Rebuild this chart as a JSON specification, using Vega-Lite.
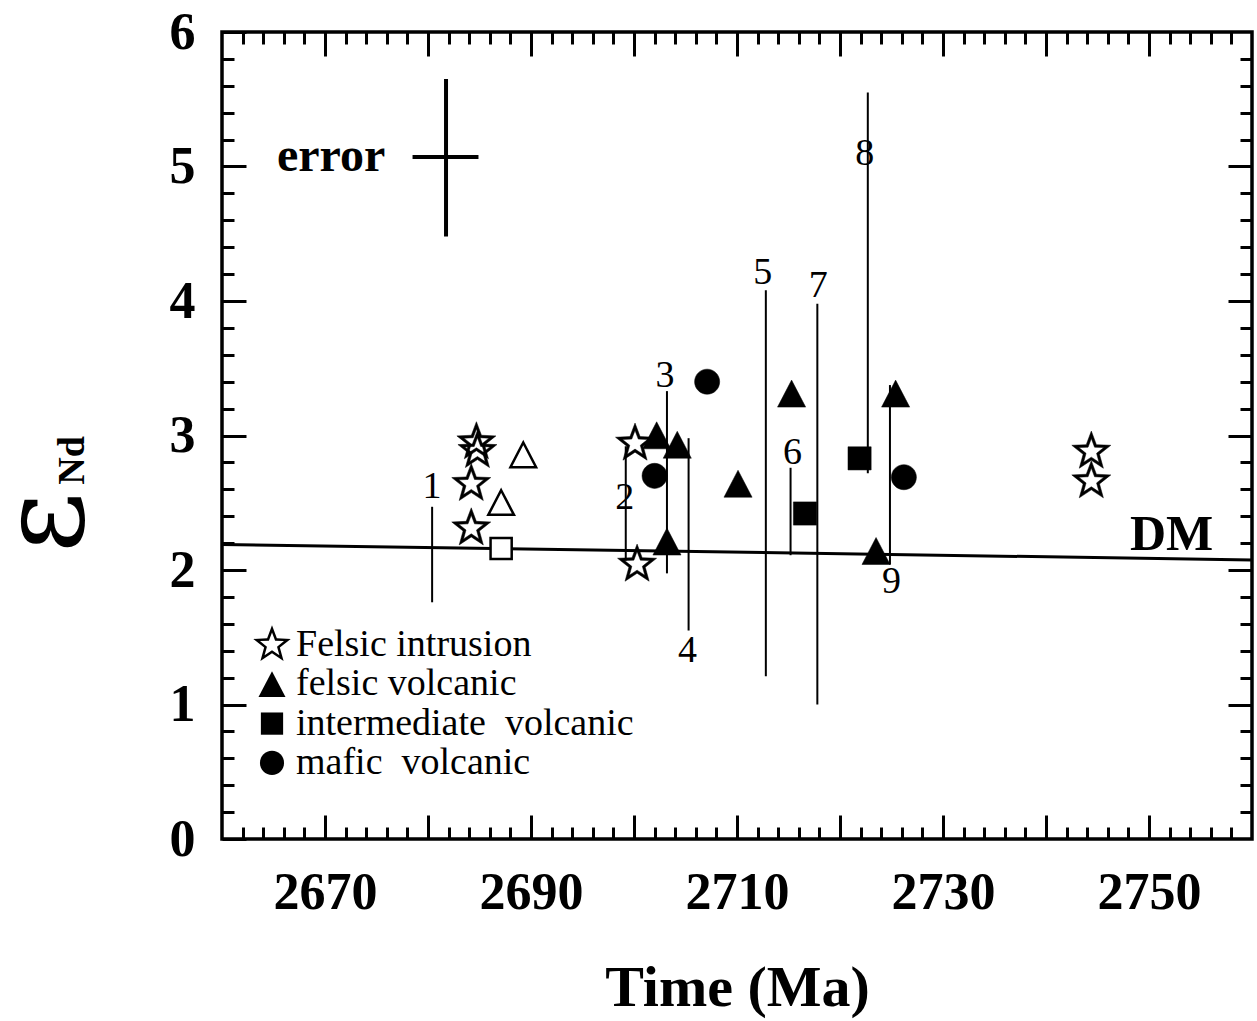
{
  "$schema": "https://vega.github.io/schema/vega-lite/v6.json",
  "width": 1030,
  "height": 807,
  "autosize": {"type": "none"},
  "padding": {"left": 222, "top": 32, "right": 5, "bottom": 182},
  "background": "white",
  "config": {
    "font": "Liberation Serif",
    "view": {"stroke": "black", "strokeWidth": 3.5},
    "axis": {"domain": false, "grid": false, "tickColor": "black", "tickWidth": 3, "labelColor": "black", "titleColor": "black", "labelFont": "Liberation Serif", "titleFont": "Liberation Serif", "zindex": 1}
  },
  "datasets": {
    "pts": [
      {"x": 2684.7, "y": 2.95, "rock": "Felsic intrusion", "open": false},
      {"x": 2684.8, "y": 2.885, "rock": "Felsic intrusion", "open": false},
      {"x": 2684.2, "y": 2.64, "rock": "Felsic intrusion", "open": false},
      {"x": 2684.2, "y": 2.31, "rock": "Felsic intrusion", "open": false},
      {"x": 2700.1, "y": 2.94, "rock": "Felsic intrusion", "open": false},
      {"x": 2700.3, "y": 2.04, "rock": "Felsic intrusion", "open": false},
      {"x": 2744.4, "y": 2.88, "rock": "Felsic intrusion", "open": false},
      {"x": 2744.4, "y": 2.66, "rock": "Felsic intrusion", "open": false},
      {"x": 2702.2, "y": 3.0, "rock": "felsic volcanic", "open": false},
      {"x": 2704.2, "y": 2.93, "rock": "felsic volcanic", "open": false},
      {"x": 2703.2, "y": 2.21, "rock": "felsic volcanic", "open": false},
      {"x": 2710.1, "y": 2.64, "rock": "felsic volcanic", "open": false},
      {"x": 2715.3, "y": 3.31, "rock": "felsic volcanic", "open": false},
      {"x": 2725.4, "y": 3.31, "rock": "felsic volcanic", "open": false},
      {"x": 2723.5, "y": 2.14, "rock": "felsic volcanic", "open": false},
      {"x": 2689.25, "y": 2.855, "rock": "felsic volcanic", "open": true},
      {"x": 2687.1, "y": 2.5, "rock": "felsic volcanic", "open": true},
      {"x": 2716.6, "y": 2.42, "rock": "intermediate volcanic", "open": false},
      {"x": 2721.9, "y": 2.83, "rock": "intermediate volcanic", "open": false},
      {"x": 2687.1, "y": 2.16, "rock": "intermediate volcanic", "open": true},
      {"x": 2702.0, "y": 2.7, "rock": "mafic volcanic", "open": false},
      {"x": 2707.1, "y": 3.4, "rock": "mafic volcanic", "open": false},
      {"x": 2726.2, "y": 2.69, "rock": "mafic volcanic", "open": false}
    ],
    "bars": [
      {"id": "1", "x": 2680.4, "lo": 1.76, "hi": 2.47, "lx": 2680.4, "ly": 2.62},
      {"id": "2", "x": 2699.2, "lo": 2.07, "hi": 2.92, "lx": 2699.1, "ly": 2.535},
      {"id": "3", "x": 2703.2, "lo": 1.975, "hi": 3.33, "lx": 2703.0, "ly": 3.44},
      {"id": "4", "x": 2705.3, "lo": 1.55, "hi": 2.98, "lx": 2705.2, "ly": 1.4},
      {"id": "5", "x": 2712.8, "lo": 1.21, "hi": 4.08, "lx": 2712.5, "ly": 4.21},
      {"id": "6", "x": 2715.2, "lo": 2.11, "hi": 2.76, "lx": 2715.4, "ly": 2.87},
      {"id": "7", "x": 2717.8, "lo": 1.0, "hi": 3.98, "lx": 2717.9, "ly": 4.11},
      {"id": "8", "x": 2722.7, "lo": 2.72, "hi": 5.55, "lx": 2722.4, "ly": 5.09},
      {"id": "9", "x": 2724.85, "lo": 2.04, "hi": 3.375, "lx": 2725.0, "ly": 1.91}
    ],
    "dm": [
      {"x": 2660, "y": 2.19},
      {"x": 2760, "y": 2.075}
    ],
    "errv": [{"x": 2681.75, "y": 4.48, "y2": 5.65}],
    "errh": [{"x": 2678.5, "x2": 2684.9, "y": 5.07}],
    "notes": [
      {"x": 2670.6, "y": 4.97, "text": "error"},
      {"x": 2752.2, "y": 2.15, "text": "DM"}
    ]
  },
  "layer": [
    {
      "data": {"name": "bars"},
      "mark": {"type": "rule", "strokeWidth": 2, "color": "black"},
      "encoding": {
        "x": {"field": "x", "type": "quantitative", "scale": {"domain": [2660, 2760], "nice": false, "zero": false},
          "axis": {"orient": "bottom", "values": [2670, 2680, 2690, 2700, 2710, 2720, 2730, 2740, 2750], "format": "d",
            "labelExpr": "(datum.value - 2670) % 20 == 0 ? datum.label : ''",
            "tickSize": -24, "labelFontSize": 52, "labelFontWeight": "bold", "labelPadding": 52, "labelBaseline": "top",
            "labelFlush": false, "labelOverlap": false,
            "title": "Time (Ma)", "titleFontSize": 58, "titleFontWeight": "bold", "titleY": 166, "titleBaseline": "alphabetic"}},
        "y": {"field": "lo", "type": "quantitative", "scale": {"domain": [0, 6], "nice": false, "zero": false},
          "axis": {"orient": "left", "values": [0, 1, 2, 3, 4, 5, 6], "format": "d",
            "tickSize": -24, "labelFontSize": 52, "labelFontWeight": "bold", "labelPadding": 51,
            "labelFlush": false, "labelOverlap": false,
            "title": "ε", "titleFont": "DejaVu Serif", "titleFontSize": 118, "titleFontWeight": "normal", "titleAngle": -90,
            "titleX": -140, "titleY": 490, "titleAlign": "center", "titleBaseline": "alphabetic"}},
        "y2": {"field": "hi"}
      }
    },
    {
      "data": {"name": "dm"},
      "mark": {"type": "line", "strokeWidth": 3, "color": "black"},
      "encoding": {
        "x": {"field": "x", "type": "quantitative", "scale": {"domain": [2660, 2760], "nice": false, "zero": false},
          "axis": {"orient": "bottom", "values": [2662, 2664, 2666, 2668, 2672, 2674, 2676, 2678, 2682, 2684, 2686, 2688, 2692, 2694, 2696, 2698, 2702, 2704, 2706, 2708, 2712, 2714, 2716, 2718, 2722, 2724, 2726, 2728, 2732, 2734, 2736, 2738, 2742, 2744, 2746, 2748, 2752, 2754, 2756, 2758],
            "tickSize": -12, "labels": false, "title": null}},
        "y": {"field": "y", "type": "quantitative", "scale": {"domain": [0, 6], "nice": false, "zero": false},
          "axis": {"orient": "left", "values": [0.2, 0.4, 0.6, 0.8, 1.2, 1.4, 1.6, 1.8, 2.2, 2.4, 2.6, 2.8, 3.2, 3.4, 3.6, 3.8, 4.2, 4.4, 4.6, 4.8, 5.2, 5.4, 5.6, 5.8],
            "tickSize": -12, "labels": false,
            "title": "Nd", "titleFontSize": 38, "titleFontWeight": "bold", "titleAngle": -90,
            "titleX": -150, "titleY": 428, "titleAlign": "center", "titleBaseline": "middle"}}
      }
    },
    {
      "data": {"name": "errv"},
      "mark": {"type": "rule", "strokeWidth": 4, "color": "black"},
      "encoding": {
        "x": {"field": "x", "type": "quantitative", "scale": {"domain": [2660, 2760], "nice": false, "zero": false},
          "axis": {"orient": "top", "values": [2670, 2680, 2690, 2700, 2710, 2720, 2730, 2740, 2750], "tickSize": -24, "labels": false, "title": null}},
        "y": {"field": "y", "type": "quantitative", "scale": {"domain": [0, 6], "nice": false, "zero": false},
          "axis": {"orient": "right", "values": [1, 2, 3, 4, 5], "tickSize": -24, "labels": false, "title": null}},
        "y2": {"field": "y2"}
      }
    },
    {
      "data": {"name": "errh"},
      "mark": {"type": "rule", "strokeWidth": 4, "color": "black"},
      "encoding": {
        "x": {"field": "x", "type": "quantitative", "scale": {"domain": [2660, 2760], "nice": false, "zero": false},
          "axis": {"orient": "top", "values": [2662, 2664, 2666, 2668, 2672, 2674, 2676, 2678, 2682, 2684, 2686, 2688, 2692, 2694, 2696, 2698, 2702, 2704, 2706, 2708, 2712, 2714, 2716, 2718, 2722, 2724, 2726, 2728, 2732, 2734, 2736, 2738, 2742, 2744, 2746, 2748, 2752, 2754, 2756, 2758],
            "tickSize": -12, "labels": false, "title": null}},
        "x2": {"field": "x2"},
        "y": {"field": "y", "type": "quantitative", "scale": {"domain": [0, 6], "nice": false, "zero": false},
          "axis": {"orient": "right", "values": [0.2, 0.4, 0.6, 0.8, 1.2, 1.4, 1.6, 1.8, 2.2, 2.4, 2.6, 2.8, 3.2, 3.4, 3.6, 3.8, 4.2, 4.4, 4.6, 4.8, 5.2, 5.4, 5.6, 5.8],
            "tickSize": -12, "labels": false, "title": null}}
      }
    },
    {
      "data": {"name": "pts"},
      "transform": [{"filter": "!datum.open"}],
      "mark": {"type": "point", "stroke": "black", "fill": "black", "strokeWidth": 0.5, "size": 1444, "opacity": 1, "fillOpacity": 1, "strokeOpacity": 1},
      "encoding": {
        "x": {"field": "x", "type": "quantitative", "axis": null},
        "y": {"field": "y", "type": "quantitative", "axis": null},
        "shape": {"field": "rock", "type": "nominal",
          "scale": {"domain": ["Felsic intrusion", "felsic volcanic", "intermediate volcanic", "mafic volcanic"],
            "range": ["M0,-1.08L0.267,-0.367L1.027,-0.334L0.431,0.14L0.635,0.874L0,0.454L-0.635,0.874L-0.431,0.14L-1.027,-0.334L-0.267,-0.367ZM0,-0.691L-0.171,-0.235L-0.658,-0.214L-0.276,0.09L-0.406,0.559L0,0.29L0.406,0.559L0.276,0.09L0.658,-0.214L0.171,-0.235Z", "M0,-0.72L0.74,0.7L-0.74,0.7Z", "M-0.61,-0.61L0.61,-0.61L0.61,0.61L-0.61,0.61Z", "M0.66,0A0.66,0.66,0,1,1,-0.66,0A0.66,0.66,0,1,1,0.66,0Z"]},
          "legend": {"orient": "none", "legendX": 31, "legendY": 594, "title": null,
            "labelFont": "Liberation Serif", "labelFontSize": 38, "labelColor": "black", "labelOffset": 5, "labelLimit": 0, "rowPadding": 1.3,
            "symbolSize": 1330, "symbolFillColor": "black", "symbolStrokeColor": "black", "symbolStrokeWidth": 0.5, "padding": 0,
            "labelExpr": "datum.label == 'intermediate volcanic' ? 'intermediate\u00a0 volcanic' : datum.label == 'mafic volcanic' ? 'mafic\u00a0 volcanic' : datum.label"}}
      }
    },
    {
      "data": {"name": "pts"},
      "transform": [{"filter": "datum.open"}],
      "mark": {"type": "point", "stroke": "black", "strokeWidth": 2.5, "fill": "white", "size": 1200, "opacity": 1, "fillOpacity": 1},
      "encoding": {
        "x": {"field": "x", "type": "quantitative", "axis": null},
        "y": {"field": "y", "type": "quantitative", "axis": null},
        "shape": {"field": "rock", "type": "nominal"}
      }
    },
    {
      "data": {"name": "bars"},
      "mark": {"type": "text", "fontSize": 38, "font": "Liberation Serif", "color": "black", "align": "center", "baseline": "middle"},
      "encoding": {
        "x": {"field": "lx", "type": "quantitative", "axis": null},
        "y": {"field": "ly", "type": "quantitative", "axis": null},
        "text": {"field": "id"}
      }
    },
    {
      "data": {"name": "notes"},
      "transform": [{"filter": "datum.text == 'error'"}],
      "mark": {"type": "text", "fontSize": 48, "fontWeight": "bold", "font": "Liberation Serif", "color": "black", "align": "center", "baseline": "alphabetic"},
      "encoding": {
        "x": {"field": "x", "type": "quantitative", "axis": null},
        "y": {"field": "y", "type": "quantitative", "axis": null},
        "text": {"field": "text"}
      }
    },
    {
      "data": {"name": "notes"},
      "transform": [{"filter": "datum.text == 'DM'"}],
      "mark": {"type": "text", "fontSize": 50, "fontWeight": "bold", "font": "Liberation Serif", "color": "black", "align": "center", "baseline": "alphabetic"},
      "encoding": {
        "x": {"field": "x", "type": "quantitative", "axis": null},
        "y": {"field": "y", "type": "quantitative", "axis": null},
        "text": {"field": "text"}
      }
    }
  ],
  "resolve": {"axis": {"x": "independent", "y": "independent"}}
}
